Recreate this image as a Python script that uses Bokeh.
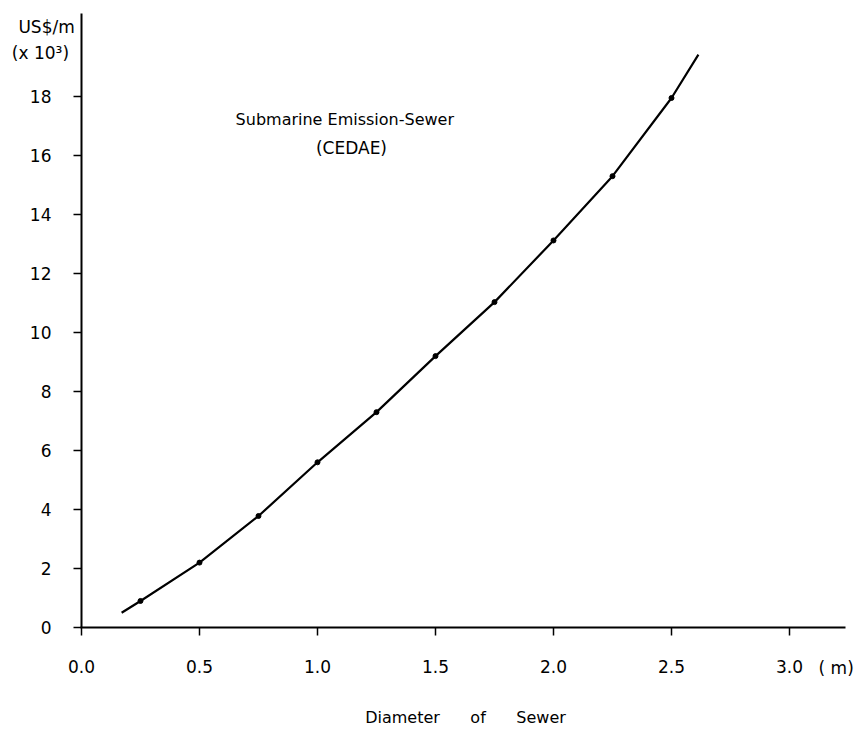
from bokeh.plotting import figure
from bokeh.models import Range1d, FixedTicker, Label
from bokeh.embed import file_html
from bokeh.resources import INLINE

# Cost of submarine emission sewer vs. diameter (US$/m, thousands)
diameter_m = [0.25, 0.5, 0.75, 1.0, 1.25, 1.5, 1.75, 2.0, 2.25, 2.5]
cost_k = [0.9, 2.2, 3.78, 5.6, 7.3, 9.2, 11.03, 13.12, 15.3, 17.95]

# drawn curve runs a little beyond the first and last plotted points
curve_d = [0.17] + diameter_m + [2.614]
curve_c = [0.5] + cost_k + [19.42]

x_ticks = [0.0, 0.5, 1.0, 1.5, 2.0, 2.5, 3.0]
x_tick_labels = ["0.0", "0.5", "1.0", "1.5", "2.0", "2.5", "3.0"]
y_ticks = [0, 2, 4, 6, 8, 10, 12, 14, 16, 18]

FONT = "DejaVu Sans"
NBSP = "\u00a0"

# The frame fills the canvas; axes are pinned at the data origin so the
# titles that sit beside them can be drawn as ordinary labels.
p = figure(width=867, height=731, output_backend="svg", toolbar_location=None,
           x_range=Range1d(-0.3432, 3.3305), y_range=Range1d(-3.525, 21.254),
           min_border=0)
p.outline_line_color = None
p.xgrid.visible = False
p.ygrid.visible = False
p.background_fill_color = "white"
p.border_fill_color = "white"

for ax in (p.xaxis[0], p.yaxis[0]):
    ax.fixed_location = 0
    ax.axis_line_width = 2
    ax.axis_line_color = "black"
    ax.major_tick_line_width = 1.5
    ax.major_tick_line_color = "black"
    ax.major_tick_out = 8
    ax.major_tick_in = 0
    ax.minor_tick_line_color = None
    ax.major_label_text_font = FONT
    ax.major_label_text_font_size = "17px"
    ax.major_label_text_color = "black"

p.xaxis[0].bounds = (-0.004, 3.237)
p.xaxis[0].ticker = FixedTicker(ticks=x_ticks)
p.xaxis[0].major_label_overrides = {t: s for t, s in zip(x_ticks, x_tick_labels)}
p.xaxis[0].major_label_standoff = 24
p.yaxis[0].bounds = (0, 20.81)
p.yaxis[0].ticker = FixedTicker(ticks=y_ticks)
p.yaxis[0].major_label_standoff = 22

p.line(curve_d, curve_c, line_color="black", line_width=2.2, line_join="round")
p.scatter(diameter_m, cost_k, size=5, color="black")

def add_text(x, y, text, align="left", size="16px"):
    p.add_layout(Label(x=x, y=y, text=text, text_font=FONT, text_font_size=size,
                       text_align=align, text_baseline="middle", text_color="black"))

add_text(-0.148, 20.37, "US$/m", align="center", size="17px")
add_text(-0.174, 19.49, "(x 10\u00b3)", align="center", size="17px")
add_text(0.653, 17.22, "Submarine Emission-Sewer", size="16px")
add_text(1.144, 16.27, "(CEDAE)", align="center", size="17px")
add_text(3.123, -1.36, "(" + NBSP + "m)", size="17px")
gap = NBSP * 6
add_text(1.627, -3.06, "Diameter" + gap + "of" + gap + "Sewer", align="center", size="16px")

open("out.html", "w").write(file_html(p, INLINE))
